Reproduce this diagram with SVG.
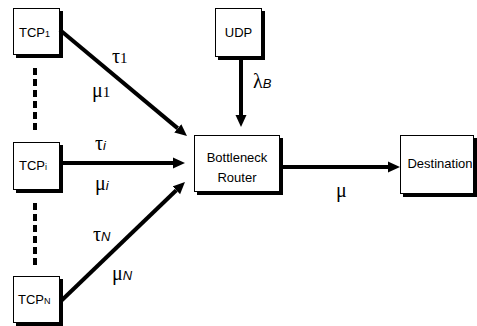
<svg xmlns="http://www.w3.org/2000/svg" width="477" height="326" viewBox="0 0 477 326">
<style>
.box{fill:#fff;stroke:#000;stroke-width:1}
.sh{fill:#000}
.lbl{font-family:"Liberation Sans",Arial,sans-serif;font-size:13px;fill:#000}
.sub{font-size:9px}
.gr{font-family:"Liberation Serif","Times New Roman",serif;font-size:20px;fill:#000}
.it{font-family:"Liberation Sans",Arial,sans-serif;font-style:italic;font-size:13px}
.dig{font-family:"Liberation Serif","Times New Roman",serif;font-size:15px}
.edge{stroke:#000;stroke-width:4;fill:none}
.dash{stroke:#000;stroke-width:4;stroke-dasharray:7 4;fill:none}
</style>
<defs>
<marker id="ah" markerUnits="userSpaceOnUse" markerWidth="13" markerHeight="12" refX="0" refY="5.5" orient="auto" viewBox="0 0 13 11">
<path d="M0,0 L12,5.5 L0,11 z" fill="#000"/>
</marker>
</defs>
<g id="tcp1">
<rect class="sh" x="16" y="11" width="47" height="47"/>
<rect class="box" x="13.5" y="8.5" width="46" height="46"/>
<text class="lbl" x="19" y="37">TCP<tspan class="sub">1</tspan></text>
</g>
<g id="tcpi">
<rect class="sh" x="16" y="145" width="47" height="48"/>
<rect class="box" x="13.5" y="142.5" width="46" height="47"/>
<text class="lbl" x="19" y="170">TCP<tspan class="sub">i</tspan></text>
</g>
<g id="tcpn">
<rect class="sh" x="16" y="279" width="47" height="47"/>
<rect class="box" x="13.5" y="276.5" width="46" height="46"/>
<text class="lbl" x="18" y="304">TCP<tspan class="sub">N</tspan></text>
</g>
<g id="udp">
<rect class="sh" x="218" y="11" width="47" height="49"/>
<rect class="box" x="215.5" y="8.5" width="46" height="48"/>
<text class="lbl" x="238.5" y="37" text-anchor="middle">UDP</text>
</g>
<g id="router">
<rect class="sh" x="197" y="138" width="86" height="57"/>
<rect class="box" x="194.5" y="135.5" width="85" height="56"/>
<text class="lbl" x="237" y="162" text-anchor="middle">Bottleneck</text>
<text class="lbl" x="237" y="182" text-anchor="middle">Router</text>
</g>
<g id="destination">
<rect class="sh" x="403" y="138" width="74" height="59"/>
<rect class="box" x="400.5" y="135.5" width="73" height="58"/>
<text class="lbl" x="440" y="168" text-anchor="middle">Destination</text>
</g>
<g id="connectors">
<line class="dash" x1="35" y1="68" x2="35" y2="131"/>
<line class="dash" x1="35" y1="203" x2="35" y2="266"/>
<line class="edge" x1="60" y1="30" x2="177.8" y2="128.4" marker-end="url(#ah)"/>
<line class="edge" x1="60" y1="163" x2="173" y2="163" marker-end="url(#ah)"/>
<line class="edge" x1="61" y1="301" x2="176.3" y2="190.3" marker-end="url(#ah)"/>
<line class="edge" x1="241" y1="57" x2="241" y2="115" marker-end="url(#ah)"/>
<line class="edge" x1="280" y1="167" x2="388" y2="167" marker-end="url(#ah)"/>
</g>
<g id="labels">
<text class="gr" x="112" y="63">τ<tspan class="dig">1</tspan></text>
<text class="gr" x="92" y="97">μ<tspan class="dig">1</tspan></text>
<text class="gr" x="95" y="150">τ<tspan class="it">i</tspan></text>
<text class="gr" x="95" y="190">μ<tspan class="it">i</tspan></text>
<text class="gr" x="93" y="241">τ<tspan class="it">N</tspan></text>
<text class="gr" x="112" y="280">μ<tspan class="it">N</tspan></text>
<text class="gr" x="253" y="88">λ<tspan class="it" font-size="11">B</tspan></text>
<text class="gr" x="336" y="197">μ</text>
</g>
</svg>
